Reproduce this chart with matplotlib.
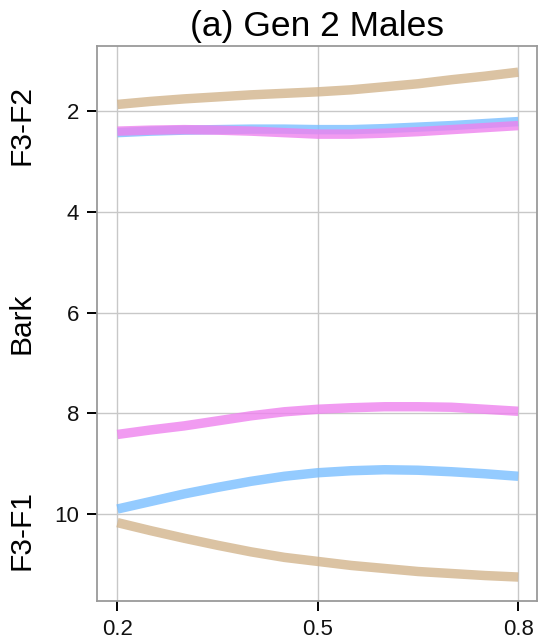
import matplotlib
matplotlib.use("Agg")
import matplotlib.pyplot as plt

plt.rcParams['font.family'] = ['Liberation Sans', 'DejaVu Sans']

# proportion of vowel duration
x = [0.2, 0.25, 0.3, 0.35, 0.4, 0.45, 0.5, 0.55, 0.6, 0.65, 0.7, 0.75, 0.8]

# F3-F2 (Bark)
f32_tan = [1.87, 1.81, 1.76, 1.72, 1.68, 1.65, 1.62, 1.58, 1.52, 1.46, 1.38, 1.31, 1.23]
f32_blue = [2.43, 2.40, 2.38, 2.37, 2.36, 2.36, 2.37, 2.37, 2.35, 2.32, 2.29, 2.25, 2.21]
f32_violet = [2.40, 2.38, 2.37, 2.38, 2.40, 2.43, 2.46, 2.46, 2.44, 2.41, 2.37, 2.33, 2.29]

# F3-F1 (Bark)
f31_tan = [10.17, 10.33, 10.48, 10.62, 10.75, 10.86, 10.94, 11.02, 11.08, 11.14, 11.18, 11.22, 11.25]
f31_blue = [9.90, 9.75, 9.60, 9.47, 9.35, 9.25, 9.18, 9.14, 9.12, 9.13, 9.16, 9.20, 9.25]
f31_violet = [8.42, 8.33, 8.25, 8.15, 8.05, 7.97, 7.92, 7.89, 7.87, 7.87, 7.88, 7.92, 7.96]

x_ticks = [0.2, 0.5, 0.8]
y_ticks = [2, 4, 6, 8, 10]
title = "(a) Gen 2 Males"
side_labels = ["F3-F2", "Bark", "F3-F1"]

c_tan = "#D2B48C"
c_blue = "#79BEFF"
c_violet = "#EE82EE"

fig = plt.figure(figsize=(5.38, 6.44), dpi=100)
ax = fig.add_axes([0.181, 0.0672, 0.817, 0.8614])

kw = dict(lw=6.8, alpha=0.8, solid_capstyle='butt', solid_joinstyle='round')
for ys, c in [(f32_tan, c_tan), (f32_blue, c_blue), (f32_violet, c_violet),
              (f31_tan, c_tan), (f31_blue, c_blue), (f31_violet, c_violet)]:
    ax.plot(x, ys, color=c, **kw)

ax.set_xlim(0.170, 0.828)
ax.set_ylim(11.72, 0.71)
ax.set_xticks(x_ticks)
ax.set_xticklabels([str(t) for t in x_ticks])
ax.set_yticks(y_ticks)
ax.grid(True, color="#C8C8C8", lw=1.0)
ax.set_axisbelow(True)
for s in ax.spines.values():
    s.set_color("#9A9A9A")
    s.set_linewidth(1.3)
ax.tick_params(axis='both', length=7.5, width=1.4, color='black',
               labelsize=16, pad=5.5, labelcolor='#111111')

ax.set_title(title, fontsize=25.5, pad=7)

fig.text(22 / 538, 1 - 125 / 644, side_labels[0], rotation=90,
         ha='center', va='center', fontsize=21.5)
fig.text(22 / 538, 1 - 323 / 644, side_labels[1], rotation=90,
         ha='center', va='center', fontsize=21.5)
fig.text(22 / 538, 1 - 530 / 644, side_labels[2], rotation=90,
         ha='center', va='center', fontsize=21.5)

fig.savefig("out.png", dpi=100)
